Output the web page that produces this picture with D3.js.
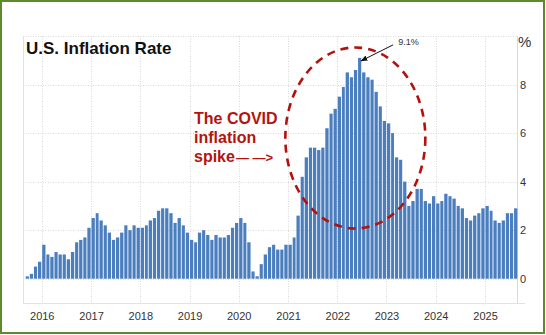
<!DOCTYPE html>
<html>
<head>
<meta charset="utf-8">
<script src="https://cdn.jsdelivr.net/npm/d3@7"></script>
<style>
  html, body { margin: 0; padding: 0; background: #fff; }
  svg { display: block; font-family: "Liberation Sans", Arial, Helvetica, sans-serif; }
</style>
</head>
<body>
<svg id="chart" width="546" height="335"></svg>
<script>
// monthly CPI, year over year %, Sep 2015 .. Aug 2025
var cpi2015 = [0.1, 0.2, 0.5, 0.7];   // Sep-Dec
var cpi2016 = [1.4, 1.0, 0.9, 1.1, 1.0, 1.0, 0.8, 1.1, 1.5, 1.6, 1.7, 2.1];
var cpi2017 = [2.5, 2.7, 2.4, 2.2, 1.9, 1.6, 1.7, 1.9, 2.2, 2.0, 2.2, 2.1];
var cpi2018 = [2.1, 2.2, 2.4, 2.5, 2.8, 2.9, 2.9, 2.7, 2.3, 2.5, 2.2, 1.9];
var cpi2019 = [1.6, 1.5, 1.9, 2.0, 1.8, 1.6, 1.8, 1.7, 1.7, 1.8, 2.1, 2.3];
var cpi2020 = [2.5, 2.3, 1.5, 0.3, 0.1, 0.6, 1.0, 1.3, 1.4, 1.2, 1.2, 1.4];
var cpi2021 = [1.4, 1.7, 2.6, 4.2, 5.0, 5.4, 5.4, 5.3, 5.4, 6.2, 6.8, 7.0];
var cpi2022 = [7.5, 7.9, 8.5, 8.3, 8.6, 9.1, 8.5, 8.3, 8.2, 7.7, 7.1, 6.5];
var cpi2023 = [6.4, 6.0, 5.0, 4.9, 4.0, 3.0, 3.2, 3.7, 3.7, 3.2, 3.1, 3.4];
var cpi2024 = [3.1, 3.2, 3.5, 3.4, 3.3, 3.0, 2.9, 2.5, 2.4, 2.6, 2.7, 2.9];
var cpi2025 = [3.0, 2.8, 2.4, 2.3, 2.4, 2.7, 2.7, 2.9];   // Jan-Aug

var yearTicks = [2016, 2017, 2018, 2019, 2020, 2021, 2022, 2023, 2024, 2025];
var valueTicks = [0, 2, 4, 6, 8];
var gridValues = [0, 2, 4, 6, 8, 10];

var title = 'U.S. Inflation Rate';
var noteLines = ['The COVID', 'inflation', 'spike'];

/**************************************************************************************/

var values = [].concat(cpi2015, cpi2016, cpi2017, cpi2018, cpi2019, cpi2020,
                       cpi2021, cpi2022, cpi2023, cpi2024, cpi2025);
var data = values.map(function(v, i){
    return { date: new Date(2015, 8 + i, 1), value: v };
});

var svg = d3.select('#chart');
var W = 546, H = 335;

// plot box (note: "top" is taken by window.top)
var pl = 23, pr = 517, pt = 36, pb = 303;

var x = d3.scaleTime()
    .domain([new Date(2015, 8, 1), new Date(2025, 8, 1)])
    .range([25.3, 517.8]);
var y = d3.scaleLinear().domain([-1, 10]).range([pb, pt]);

var grid = svg.append('g');

// dotted grid
grid.selectAll('.hgrid').data(gridValues).enter().append('line')
    .attr('class', 'hgrid')
    .attr('x1', pl).attr('x2', pr)
    .attr('y1', function(d){ return Math.round(y(d)) + 0.5; })
    .attr('y2', function(d){ return Math.round(y(d)) + 0.5; })
    .style('stroke', '#d9d9d9').style('stroke-width', 1).style('stroke-dasharray', '1,1.5');

grid.selectAll('.vgrid').data(yearTicks).enter().append('line')
    .attr('class', 'vgrid')
    .attr('x1', function(d){ return Math.round(x(new Date(d, 0, 1))) + 0.5; })
    .attr('x2', function(d){ return Math.round(x(new Date(d, 0, 1))) + 0.5; })
    .attr('y1', pt).attr('y2', pb)
    .style('stroke', '#d9d9d9').style('stroke-width', 1).style('stroke-dasharray', '1,1.5');

// frame
grid.append('line').attr('x1', pl + 0.5).attr('x2', pl + 0.5).attr('y1', pt).attr('y2', pb)
    .style('stroke', '#e2e2e2');
grid.append('line').attr('x1', pr + 0.5).attr('x2', pr + 0.5).attr('y1', pt).attr('y2', pb)
    .style('stroke', '#dadada');
grid.append('line').attr('x1', pl).attr('x2', 525).attr('y1', pb + 0.5).attr('y2', pb + 0.5)
    .style('stroke', '#e2e2e2');

/**************************************************************************************/

// bars
svg.append('g').selectAll('rect').data(data).enter().append('rect')
    .attr('x', function(d){ return x(d.date) + 0.45; })
    .attr('width', function(d){
        var next = new Date(d.date.getFullYear(), d.date.getMonth() + 1, 1);
        return x(next) - x(d.date) - 0.9;
    })
    .attr('y', function(d){ return y(d.value); })
    .attr('height', function(d){ return y(0) - y(d.value); })
    .style('fill', '#4a7ebf');

/**************************************************************************************/

// axis labels
var xAxis = d3.axisBottom(x)
    .tickValues(yearTicks.map(function(d){ return new Date(d, 0, 1); }))
    .tickFormat(d3.timeFormat('%Y'))
    .tickSize(0).tickPadding(9);
var gx = svg.append('g').attr('transform', 'translate(0,' + pb + ')').call(xAxis);
gx.select('.domain').remove();
gx.selectAll('text').style('font-size', '11px').style('fill', '#333')
    .style('font-family', '"Liberation Sans", Arial, sans-serif');

var yAxis = d3.axisRight(y).tickValues(valueTicks).tickSize(0).tickPadding(3);
var gy = svg.append('g').attr('transform', 'translate(' + pr + ',0)').call(yAxis);
gy.select('.domain').remove();
gy.selectAll('text').style('font-size', '11px').style('fill', '#333')
    .style('font-family', '"Liberation Sans", Arial, sans-serif');

svg.append('text').attr('x', 518).attr('y', 47).text('%')
    .style('font-size', '15px').style('fill', '#333');

svg.append('text').attr('x', 26).attr('y', 54).text(title)
    .style('font-size', '17px').style('font-weight', 'bold').style('fill', '#111');

/**************************************************************************************/

// peak callout
var peak = data.reduce(function(a, b){ return b.value > a.value ? b : a; });
var peakX = x(peak.date) + 3.5, peakY = y(peak.value);

svg.append('defs').append('marker')
    .attr('id', 'head').attr('viewBox', '0 0 10 10')
    .attr('refX', 9).attr('refY', 5)
    .attr('markerWidth', 7).attr('markerHeight', 7)
    .attr('orient', 'auto')
    .append('path').attr('d', 'M 0 1 L 10 5 L 0 9 z').style('fill', '#111');

svg.append('line')
    .attr('x1', peakX + 32).attr('y1', peakY - 13)
    .attr('x2', peakX).attr('y2', peakY + 3)
    .style('stroke', '#111').style('stroke-width', 1)
    .attr('marker-end', 'url(#head)');

svg.append('text').attr('x', peakX + 37).attr('y', peakY - 12.5)
    .text(peak.value.toFixed(1) + '%')
    .style('font-size', '9px').style('fill', '#333');

// dashed ring round the spike
svg.append('ellipse')
    .attr('cx', x(new Date(2022, 4, 15))).attr('cy', y(5.8))
    .attr('rx', 70).attr('ry', 90.5)
    .style('fill', 'none').style('stroke', '#b3110e')
    .style('stroke-width', 2.6).style('stroke-dasharray', '8,6');

var note = svg.append('text')
    .style('font-size', '16px').style('font-weight', 'bold').style('fill', '#b3140f');
note.selectAll('tspan').data(noteLines).enter().append('tspan')
    .attr('x', 194)
    .attr('y', function(d, i){ return 124 + i*19; })
    .text(function(d){ return d; });
// dashed pointer after "spike"
note.append('tspan').text('\u2014 \u2014>').attr('dx', 1)
    .style('font-size', '13px');

// green border
svg.append('rect').attr('x', 1).attr('y', 1).attr('width', W - 3).attr('height', H - 3)
    .style('fill', 'none').style('stroke', '#5b8a2f').style('stroke-width', 2);
</script>
</body>
</html>
